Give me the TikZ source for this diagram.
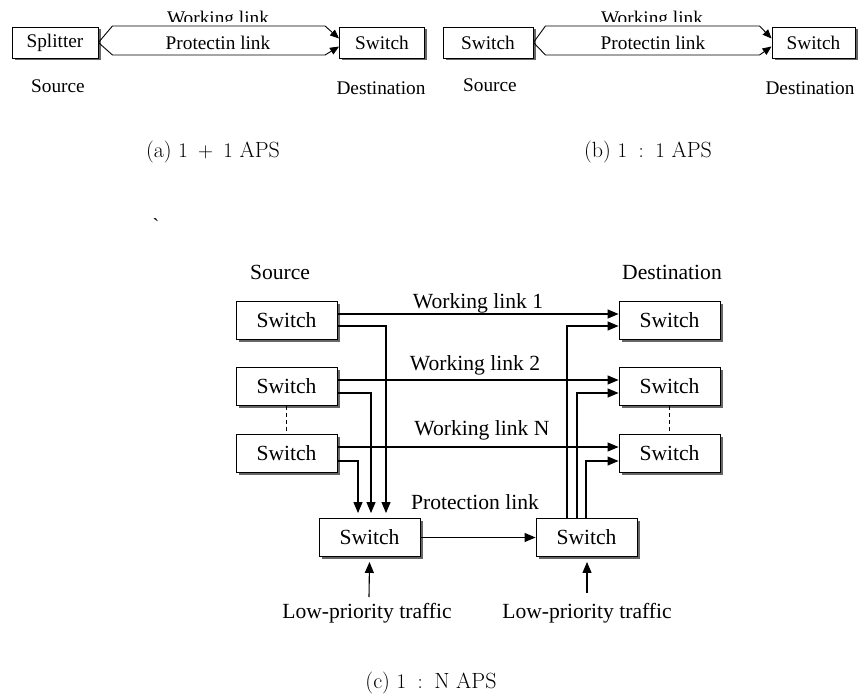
\documentclass[tikz,border=0pt]{standalone}
\usepackage{fontspec}
\newfontfamily\tms{Liberation Serif}
\usetikzlibrary{arrows.meta,shadows,calc}
\begin{document}
\begin{tikzpicture}[x=1pt,y=-1pt,
  sbox/.style={draw, fill=white, line width=0.9pt, inner sep=0pt,
     drop shadow={shadow xshift=2.5pt, shadow yshift=-2.5pt, fill=black!60, opacity=1}},
  abox/.style={sbox, minimum height=31pt},
  cbox/.style={sbox, minimum width=101pt, minimum height=38pt},
  atxt/.style={font=\tms\fontsize{19.3}{22}\selectfont, inner sep=0pt},
  ctxt/.style={font=\tms\fontsize{21.6}{25}\selectfont, inner sep=0pt},
  captxt/.style={font=\fontsize{22}{26}\selectfont, inner sep=0pt},
  aarr/.style={line width=0.9pt, -{Triangle[length=9pt,width=7.5pt]}},
  carr/.style={line width=1.1pt, -{Triangle[length=11pt,width=9pt]}},
  dsh/.style={line width=0.9pt, dash pattern=on 4pt off 3pt}]
\path[use as bounding box] (0,0) rectangle (861,700);

% ---------- (a) 1+1 APS ----------
\node[abox, atxt, minimum width=86pt] (spl) at (55,42.5) {Splitter};
\node[abox, atxt, minimum width=85pt] (adst) at (382,42.5) {Switch};
\draw[aarr] (spl.east) -- ($(spl.east)+(14,-16.5)$) -- ($(adst.west)+(-14,-16.5)$) -- ($(adst.west)+(0,-4)$);
\draw[aarr] (spl.east) -- ($(spl.east)+(14,12.5)$) -- ($(adst.west)+(-14,12.5)$) -- ($(adst.west)+(0,4)$);
\begin{scope}
  \clip (140,0) rectangle (300,22);
  \node[atxt, anchor=base] (awl) at (218,24.5) {Working link};
\end{scope}
\node[atxt] (apl) at (218,43) {Protectin link};
\node[atxt] (asrc) at (58,86) {Source};
\node[atxt] (adest) at (381,88) {Destination};
\node[captxt] (capa) at (213,152) {(a) $1\;+\;1$ APS};

% ---------- (b) 1:1 APS ----------
\node[abox, atxt, minimum width=90pt] (bsrc) at (488,42.5) {Switch};
\node[abox, atxt, minimum width=83pt] (bdst) at (813.5,42.5) {Switch};
\draw[aarr] (bsrc.east) -- ($(bsrc.east)+(12,-16.5)$) -- ($(bdst.west)+(-12,-16.5)$) -- ($(bdst.west)+(0,-4)$);
\draw[aarr] (bsrc.east) -- ($(bsrc.east)+(12,12.5)$) -- ($(bdst.west)+(-12,12.5)$) -- ($(bdst.west)+(0,4)$);
\begin{scope}
  \clip (570,0) rectangle (740,22);
  \node[atxt, anchor=base] (bwl) at (652,24.5) {Working link};
\end{scope}
\node[atxt] (bpl) at (653,43) {Protectin link};
\node[atxt] (bsl) at (490,85) {Source};
\node[atxt] (bdl) at (810,88) {Destination};
\node[captxt] (capb) at (648,152) {(b) $1\;:\;1$ APS};

% stray mark
\node[font=\tms\fontsize{20}{24}\selectfont, inner sep=0pt] (tick) at (156,226) {\textasciigrave};

% ---------- (c) 1:N APS ----------
\node[ctxt] (csrc) at (280,272) {Source};
\node[ctxt] (cdst) at (672,272) {Destination};

\node[cbox, ctxt] (s1) at (286.5,320) {Switch};
\node[cbox, ctxt] (s2) at (286.5,386.5) {Switch};
\node[cbox, ctxt] (s3) at (286.5,453) {Switch};
\node[cbox, ctxt] (d1) at (669.5,320) {Switch};
\node[cbox, ctxt] (d2) at (669.5,386.5) {Switch};
\node[cbox, ctxt] (d3) at (669.5,453) {Switch};
\node[cbox, ctxt] (pl) at (369.5,537.5) {Switch};
\node[cbox, ctxt] (pr) at (586.5,537.5) {Switch};

\draw[dsh] (s2.south) -- (s3.north);
\draw[dsh] (d2.south) -- (d3.north);

% working links
\draw[carr] ($(s1.east)+(0,-6)$) -- ($(d1.west)+(0,-6)$);
\draw[carr] ($(s2.east)+(0,-6.5)$) -- ($(d2.west)+(0,-6.5)$);
\draw[carr] ($(s3.east)+(0,-6)$) -- ($(d3.west)+(0,-6)$);
\node[ctxt] (wl1) at (478,303) {Working link 1};
\node[ctxt] (wl2) at (475,365) {Working link 2};
\node[ctxt] (wlN) at (482,430) {Working link N};

% to protection switch
\draw[carr] ($(s1.east)+(0,6)$) -| ($(pl.north)+(16.5,-5)$);
\draw[carr] ($(s2.east)+(0,6.5)$) -| ($(pl.north)+(1.5,-5)$);
\draw[carr] ($(s3.east)+(0,8)$) -| ($(pl.north)+(-11.5,-5)$);

% protection link
\draw[carr] (pl.east) -- (pr.west);
\node[ctxt] (plab) at (475,502) {Protection link};

% from protection switch to destinations
\draw[carr] ($(pr.north)+(-19.5,0)$) |- ($(d1.west)+(0,6)$);
\draw[carr] ($(pr.north)+(-9.5,0)$) |- ($(d2.west)+(0,6.5)$);
\draw[carr] ($(pr.north)+(-0.5,0)$) |- ($(d3.west)+(0,8)$);

% low priority traffic
\node[ctxt] (lp1) at (367,613) {Low-priority traffic};
\node[ctxt] (lp2) at (587,613) {Low-priority traffic};
\coordinate (lp1s) at (369,597);
\coordinate (lp2s) at (587,593);
\draw[carr] (lp1s) -- ($(pl.south)+(0,5)$);
\draw[carr] (lp2s) -- ($(pr.south)+(0.5,5)$);

\node[captxt] (capc) at (431,683) {(c) $1\;:\;\mathrm{N}$ APS};
\end{tikzpicture}
\end{document}
